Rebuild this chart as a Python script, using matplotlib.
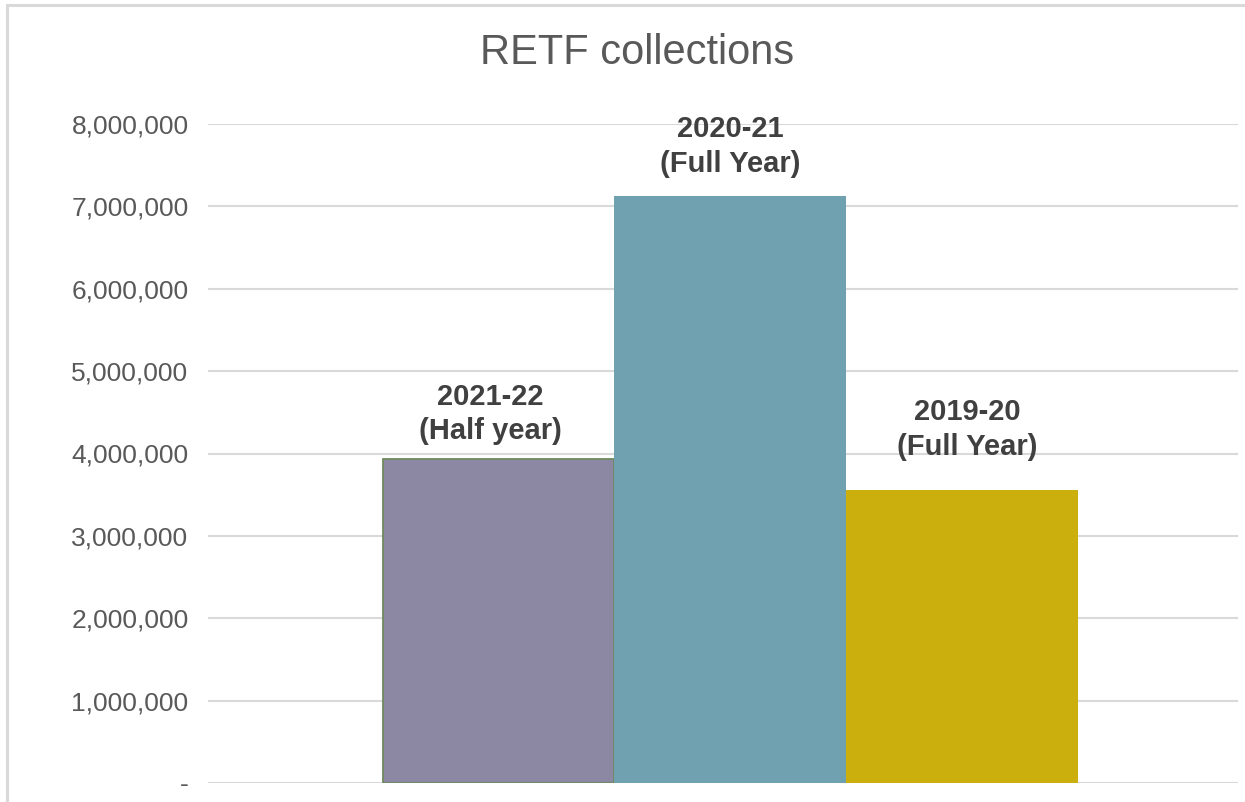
"""
RETF collections bar chart (Excel-style single group of three bars)
Output: out.png
"""

import matplotlib
matplotlib.use('Agg')
import matplotlib.pyplot as plt
import matplotlib.patches as mpatches
from matplotlib.ticker import FuncFormatter

# ── data ──────────────────────────────────────────────────────────────────────
periods = ["2021-22\n(Half year)", "2020-21\n(Full Year)", "2019-20\n(Full Year)"]
collections = [3935000, 7130000, 3560000]
y_ticks = [0, 1000000, 2000000, 3000000, 4000000, 5000000, 6000000, 7000000, 8000000]

# ── style ─────────────────────────────────────────────────────────────────────
BAR_COLORS = ["#8C88A4", "#6FA1B0", "#CBAF0C"]
BAR_EDGES = ["#6F8A5E", "#6FA1B0", "#CBAF0C"]
LABEL_OFFSETS = [(-8, 45), (0, 49), (5, 60)]   # pixels, hand-placed like in Excel
BAR_W = 0.225

plt.rcParams['font.family'] = ['Liberation Sans', 'DejaVu Sans']

fig = plt.figure(figsize=(12.45, 8.02), dpi=100)
ax = fig.add_axes([208 / 1245, 1 - 783 / 802, (1238 - 208) / 1245, (783 - 124) / 802])

# chart frame (only top and left edges are visible in the crop)
fig.patches.append(mpatches.Rectangle(
    (7 / 1245, -0.05), 1.1, 1 - 5 / 802 + 0.05, transform=fig.transFigure,
    fill=False, edgecolor="#D9D9D9", linewidth=2.2, zorder=0))

for i, (lab, val) in enumerate(zip(periods, collections)):
    xc = (i - 1) * BAR_W
    ax.bar(xc, val, width=BAR_W, color=BAR_COLORS[i], edgecolor=BAR_EDGES[i],
           linewidth=1.3 if i == 0 else 0, zorder=3)
    ax.annotate(lab, xy=(xc, val), xytext=LABEL_OFFSETS[i],
                textcoords="offset pixels", ha="center", va="center",
                fontsize=21, fontweight="bold", color="#404040",
                linespacing=1.3, zorder=4)

ax.set_xlim(-0.507, 0.493)
ax.set_ylim(0, 8000000)
ax.set_yticks(y_ticks)
ax.yaxis.set_major_formatter(FuncFormatter(lambda v, p: "-" if v == 0 else f"{v:,.0f}"))
ax.tick_params(axis="y", length=0, pad=14, labelsize=19, labelcolor="#595959")
ax.set_xticks([])

ax.grid(axis="y", color="#D9D9D9", linewidth=1.5, zorder=0)
ax.set_axisbelow(True)
for s in ax.spines.values():
    s.set_visible(False)

fig.text(637 / 1245, 1 - 53 / 802, "RETF collections", ha="center", va="center",
         fontsize=30, color="#595959")

fig.savefig("out.png", dpi=100, facecolor="white")
plt.close()
